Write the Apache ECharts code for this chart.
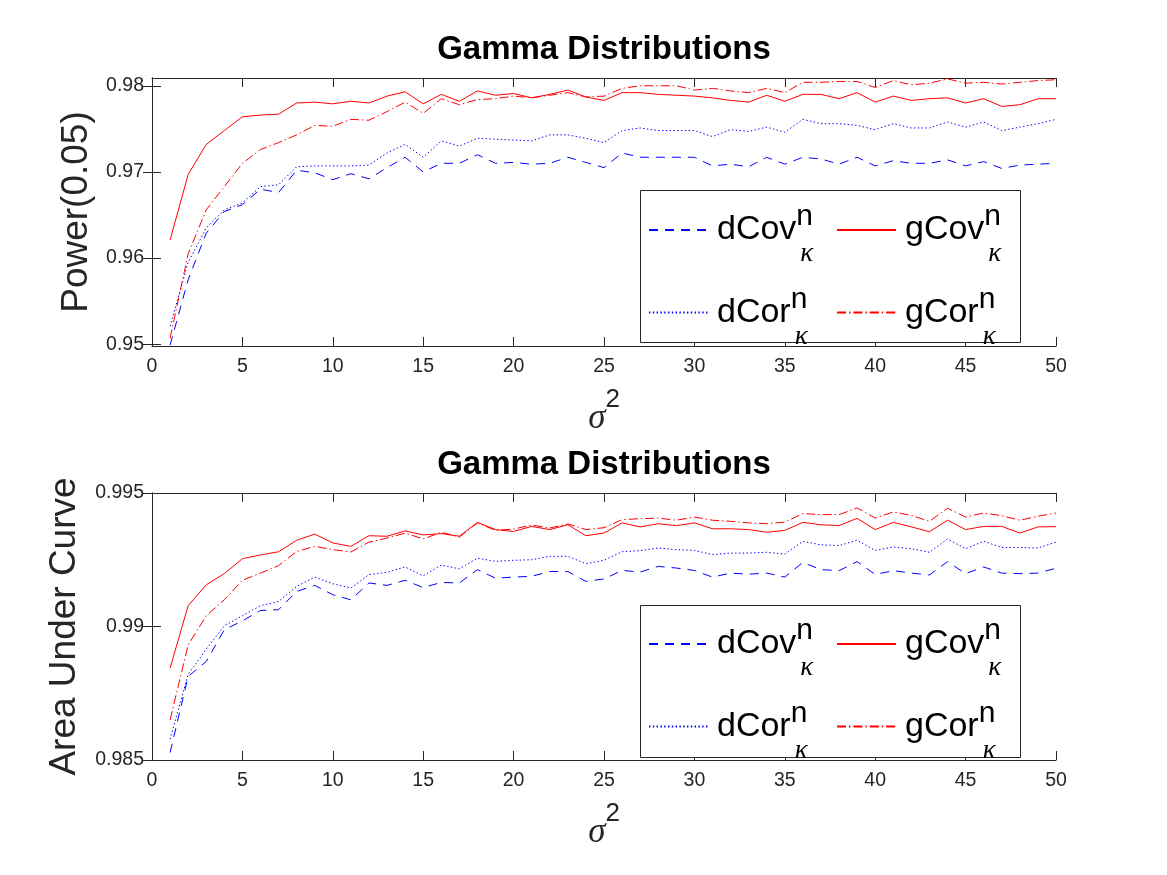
<!DOCTYPE html>
<html>
<head>
<meta charset="utf-8">
<script src="https://cdn.jsdelivr.net/npm/echarts@6/dist/echarts.min.js"></script>
<style>
  html, body { margin: 0; padding: 0; background: #fff; }
</style>
</head>
<body>
<div id="chart" style="width: 1167px; height: 875px;"></div>
<script>
// x values (sigma^2)
const sigma2 = [1, 2, 3, 4, 5, 6, 7, 8, 9, 10, 11, 12, 13, 14, 15, 16, 17, 18, 19, 20,
  21, 22, 23, 24, 25, 26, 27, 28, 29, 30, 31, 32, 33, 34, 35, 36, 37, 38, 39, 40,
  41, 42, 43, 44, 45, 46, 47, 48, 49, 50]

// top panel: Power(0.05)
const dCovPow = [0.9499, 0.9575, 0.9629, 0.9654, 0.9662, 0.9680, 0.9676, 0.9702, 0.9699, 0.9691,
  0.9698, 0.9692, 0.9705, 0.9717, 0.9700, 0.9710, 0.9710, 0.9720, 0.9710, 0.9711,
  0.9709, 0.9710, 0.9717, 0.9711, 0.9705, 0.9722, 0.9717, 0.9717, 0.9717, 0.9717,
  0.9707, 0.9709, 0.9706, 0.9717, 0.9709, 0.9717, 0.9715, 0.9709, 0.9717, 0.9707,
  0.9713, 0.9710, 0.9710, 0.9714, 0.9707, 0.9712, 0.9704, 0.9708, 0.9709, 0.9710]
const gCovPow = [0.9621, 0.9697, 0.9732, 0.9748, 0.9764, 0.9766, 0.9767, 0.9780, 0.9781, 0.9779,
  0.9782, 0.9780, 0.9788, 0.9793, 0.9779, 0.9790, 0.9782, 0.9794, 0.9789, 0.9791,
  0.9786, 0.9790, 0.9795, 0.9787, 0.9783, 0.9792, 0.9792, 0.9790, 0.9789, 0.9788,
  0.9786, 0.9783, 0.9781, 0.9789, 0.9782, 0.9790, 0.9790, 0.9785, 0.9792, 0.9781,
  0.9788, 0.9783, 0.9785, 0.9786, 0.9780, 0.9785, 0.9776, 0.9778, 0.9785, 0.9785]
const dCorPow = [0.9521, 0.9595, 0.9635, 0.9656, 0.9664, 0.9683, 0.9685, 0.9706, 0.9707, 0.9707,
  0.9707, 0.9708, 0.9722, 0.9732, 0.9717, 0.9736, 0.9730, 0.9739, 0.9738, 0.9737,
  0.9736, 0.9743, 0.9743, 0.9739, 0.9734, 0.9748, 0.9751, 0.9748, 0.9748, 0.9748,
  0.9741, 0.9749, 0.9747, 0.9752, 0.9746, 0.9761, 0.9756, 0.9756, 0.9754, 0.9749,
  0.9756, 0.9751, 0.9751, 0.9758, 0.9752, 0.9758, 0.9748, 0.9752, 0.9756, 0.9761]
const gCorPow = [0.9507, 0.9605, 0.9656, 0.9683, 0.9710, 0.9726, 0.9734, 0.9743, 0.9754, 0.9753,
  0.9761, 0.9760, 0.9770, 0.9781, 0.9768, 0.9785, 0.9778, 0.9784, 0.9785, 0.9788,
  0.9786, 0.9789, 0.9792, 0.9787, 0.9788, 0.9797, 0.9800, 0.9800, 0.9800, 0.9795,
  0.9797, 0.9794, 0.9792, 0.9797, 0.9792, 0.9804, 0.9804, 0.9805, 0.9805, 0.9798,
  0.9806, 0.9801, 0.9803, 0.9808, 0.9803, 0.9804, 0.9802, 0.9804, 0.9806, 0.9807]

// bottom panel: Area Under Curve
const dCovAuc = [0.98528, 0.98813, 0.98869, 0.98988, 0.99021, 0.99060, 0.99063, 0.99131, 0.99154, 0.99119,
  0.99100, 0.99163, 0.99154, 0.99173, 0.99146, 0.99165, 0.99163, 0.99213, 0.99181, 0.99185,
  0.99188, 0.99206, 0.99206, 0.99169, 0.99178, 0.99210, 0.99204, 0.99225, 0.99219, 0.99210,
  0.99185, 0.99200, 0.99196, 0.99200, 0.99185, 0.99240, 0.99213, 0.99209, 0.99243, 0.99195,
  0.99209, 0.99200, 0.99193, 0.99243, 0.99198, 0.99223, 0.99200, 0.99198, 0.99200, 0.99218]
const gCovAuc = [0.98844, 0.99078, 0.99156, 0.99198, 0.99254, 0.99268, 0.99280, 0.99323, 0.99346, 0.99313,
  0.99300, 0.99340, 0.99338, 0.99358, 0.99343, 0.99348, 0.99338, 0.99390, 0.99363, 0.99356,
  0.99375, 0.99363, 0.99381, 0.99340, 0.99350, 0.99388, 0.99373, 0.99385, 0.99378, 0.99388,
  0.99366, 0.99366, 0.99363, 0.99353, 0.99360, 0.99390, 0.99381, 0.99378, 0.99405, 0.99363,
  0.99390, 0.99373, 0.99355, 0.99398, 0.99363, 0.99375, 0.99375, 0.99350, 0.99373, 0.99374]
const dCorAuc = [0.98578, 0.98821, 0.98915, 0.99003, 0.99040, 0.99078, 0.99094, 0.99150, 0.99185, 0.99160,
  0.99144, 0.99194, 0.99203, 0.99223, 0.99190, 0.99230, 0.99216, 0.99256, 0.99244, 0.99248,
  0.99250, 0.99263, 0.99263, 0.99235, 0.99248, 0.99280, 0.99284, 0.99294, 0.99288, 0.99285,
  0.99269, 0.99275, 0.99275, 0.99278, 0.99271, 0.99319, 0.99306, 0.99303, 0.99323, 0.99285,
  0.99298, 0.99291, 0.99278, 0.99328, 0.99291, 0.99319, 0.99296, 0.99296, 0.99294, 0.99316]
const gCorAuc = [0.98650, 0.98931, 0.99040, 0.99100, 0.99173, 0.99200, 0.99228, 0.99281, 0.99300, 0.99288,
  0.99279, 0.99316, 0.99331, 0.99350, 0.99328, 0.99353, 0.99335, 0.99388, 0.99360, 0.99365,
  0.99380, 0.99369, 0.99384, 0.99363, 0.99370, 0.99400, 0.99404, 0.99406, 0.99398, 0.99410,
  0.99398, 0.99394, 0.99388, 0.99385, 0.99391, 0.99423, 0.99419, 0.99419, 0.99444, 0.99406,
  0.99429, 0.99416, 0.99394, 0.99443, 0.99410, 0.99425, 0.99415, 0.99398, 0.99413, 0.99425]

// ticks
const xTicks = [0, 5, 10, 15, 20, 25, 30, 35, 40, 45, 50]
const powTicks = [0.95, 0.96, 0.97, 0.98]
const aucTicks = [0.985, 0.99, 0.995]

const axisColor = '#262626'
const font = 'Liberation Sans, Arial, Helvetica, sans-serif'
const serif = 'Liberation Serif, DejaVu Serif, serif'

const chart = echarts.init(document.getElementById('chart'))

const pairs = vals => vals.map((v, i) => [sigma2[i], v])

// one line series, g = panel index
function line (name, vals, g, color, dash) {
  return {
    name: name,
    type: 'line',
    xAxisIndex: g * 2,
    yAxisIndex: g * 2,
    data: pairs(vals),
    symbol: 'none',
    animation: false,
    lineStyle: { color: color, width: 1, type: dash },
    itemStyle: { color: color }
  }
}

const dashed = [9, 7]
const dotted = [1.4, 2.4]
const dashDot = [9, 3, 1.4, 3]

function xAxes (g) {
  return [
    {
      type: 'value', gridIndex: g, position: 'bottom', min: 0, max: 50, interval: 5,
      name: '{s|σ}{p|2}', nameLocation: 'middle', nameGap: 41,
      nameTextStyle: {
        rich: {
          s: { fontSize: 35, fontStyle: 'italic', fontFamily: serif, color: axisColor, lineHeight: 64 },
          p: { fontSize: 26, fontFamily: font, color: axisColor, verticalAlign: 'top', height: 26 }
        }
      },
      axisLine: { lineStyle: { color: axisColor, width: 1 } },
      axisTick: { inside: true, length: 9, customValues: xTicks, lineStyle: { color: axisColor } },
      axisLabel: { color: axisColor, fontSize: 19.5, fontFamily: font, margin: 11, customValues: xTicks },
      splitLine: { show: false }
    },
    {
      type: 'value', gridIndex: g, position: 'top', min: 0, max: 50, interval: 5,
      axisLine: { lineStyle: { color: axisColor, width: 1 } },
      axisTick: { inside: true, length: 9, lineStyle: { color: axisColor } },
      axisLabel: { show: false },
      splitLine: { show: false }
    }
  ]
}

function yAxes (g, min, max, ticks, name, gap) {
  return [
    {
      type: 'value', gridIndex: g, position: 'left', min: min, max: max,
      name: name, nameLocation: 'middle', nameGap: gap,
      nameTextStyle: { fontSize: 37, fontFamily: font, color: axisColor },
      axisLine: { show: true, lineStyle: { color: axisColor, width: 1 } },
      axisTick: { show: true, inside: true, length: 9, customValues: ticks, lineStyle: { color: axisColor } },
      axisLabel: { color: axisColor, fontSize: 19.5, fontFamily: font, margin: 8, customValues: ticks },
      splitLine: { show: false }
    },
    {
      type: 'value', gridIndex: g, position: 'right', min: min, max: max,
      axisLine: { show: true, lineStyle: { color: axisColor, width: 1 } },
      axisTick: { show: true, inside: true, length: 9, customValues: ticks, lineStyle: { color: axisColor } },
      axisLabel: { show: false },
      splitLine: { show: false }
    }
  ]
}

// legend text: name with superscript n and subscript kappa
const legendRich = {
  b: { fontSize: 34, fontFamily: font, color: '#000', lineHeight: 56, padding: [0, 0, 0, 4] },
  n: { fontSize: 30, fontFamily: font, color: '#000', verticalAlign: 'top', height: 30, width: 4 },
  k: { fontSize: 27, fontStyle: 'italic', fontFamily: serif, color: '#000', verticalAlign: 'bottom', height: 8 }
}

function legendCol (names, left, top) {
  return {
    data: names,
    orient: 'vertical',
    left: left,
    top: top,
    padding: 0,
    itemGap: 17,
    itemWidth: 59,
    itemHeight: 14,
    selectedMode: false,
    z: 6,
    itemStyle: { opacity: 0, borderWidth: 0 },
    formatter: nm => '{b|' + nm + '}{n|n}{k|κ}',
    textStyle: { rich: legendRich }
  }
}

const option = {
  backgroundColor: '#fff',
  animation: false,
  title: [
    { text: 'Gamma Distributions', left: 604, textAlign: 'center', top: 33, padding: 0,
      textStyle: { fontSize: 33, fontWeight: 'bold', fontFamily: font, color: '#000' } },
    { text: 'Gamma Distributions', left: 604, textAlign: 'center', top: 448, padding: 0,
      textStyle: { fontSize: 33, fontWeight: 'bold', fontFamily: font, color: '#000' } }
  ],
  grid: [
    { left: 152, top: 78, width: 904, height: 268 },
    { left: 152, top: 493, width: 904, height: 267 }
  ],
  xAxis: [...xAxes(0), ...xAxes(1)],
  yAxis: [
    ...yAxes(0, 0.9498, 0.9809, powTicks, 'Power(0.05)', 56),
    ...yAxes(1, 0.985, 0.995, aucTicks, 'Area Under Curve', 69)
  ],
  legend: [
    legendCol(['dCov', 'dCor'], 648, 202),
    legendCol(['gCov', 'gCor'], 836, 202),
    legendCol(['dCov', 'dCor'], 648, 616),
    legendCol(['gCov', 'gCor'], 836, 616)
  ],
  graphic: [
    { type: 'rect', z: 5, shape: { x: 640.5, y: 190.5, width: 380, height: 152 },
      style: { fill: '#fff', stroke: axisColor, lineWidth: 1 } },
    { type: 'rect', z: 5, shape: { x: 640.5, y: 605.5, width: 380, height: 152 },
      style: { fill: '#fff', stroke: axisColor, lineWidth: 1 } }
  ],
  series: [
    line('dCov', dCovPow, 0, '#0000ff', dashed),
    line('gCov', gCovPow, 0, '#ff0000', 'solid'),
    line('dCor', dCorPow, 0, '#0000ff', dotted),
    line('gCor', gCorPow, 0, '#ff0000', dashDot),
    line('dCov', dCovAuc, 1, '#0000ff', dashed),
    line('gCov', gCovAuc, 1, '#ff0000', 'solid'),
    line('dCor', dCorAuc, 1, '#0000ff', dotted),
    line('gCor', gCorAuc, 1, '#ff0000', dashDot)
  ]
}

chart.setOption(option)
</script>
</body>
</html>
